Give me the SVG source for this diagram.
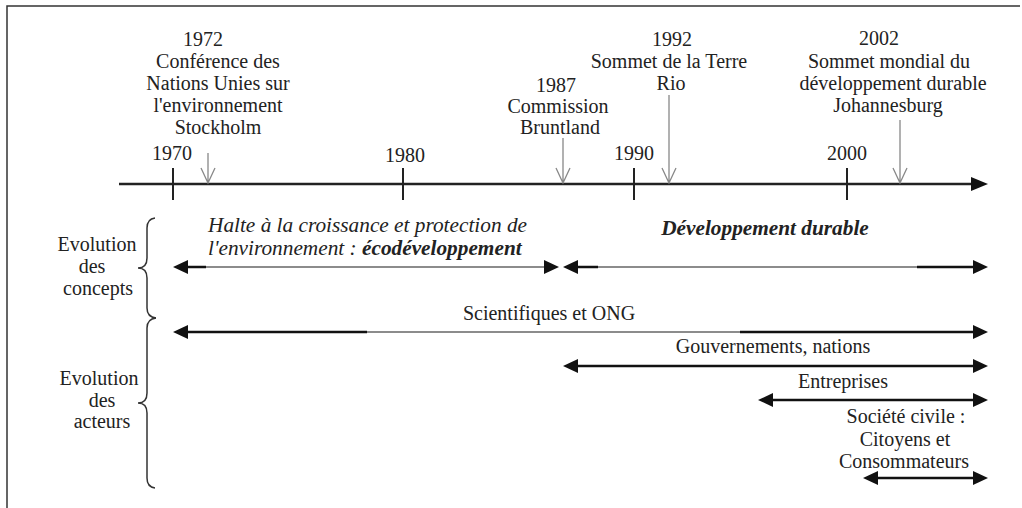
<svg xmlns="http://www.w3.org/2000/svg" width="1022" height="508" viewBox="0 0 1022 508" font-family="'Liberation Serif', 'DejaVu Serif', serif">
<style>
text{font-family:'Liberation Serif','DejaVu Serif',serif;font-size:20px;fill:#222}
.c{text-anchor:middle}
.it{font-style:italic;font-size:21.3px}
.bi{font-style:italic;font-weight:bold;font-size:21.3px}
.frame{stroke:#333;stroke-width:1.5;fill:none}
.axis{stroke:#222;stroke-width:2.5}
.tick{stroke:#222;stroke-width:2}
.ev{stroke:#888;stroke-width:1.3;fill:none}
.thin{stroke:#666;stroke-width:1.3}
.thick{stroke:#111;stroke-width:2.5}
.head{fill:#111}
.brace{stroke:#333;stroke-width:1.5;fill:none}
</style>
<rect width="1022" height="508" fill="#fff"/>
<path class="frame" d="M7,508 L7,6 L1020,6"/>

<g id="timeline">
  <line class="axis" x1="119" y1="184" x2="975" y2="184"/>
  <polygon class="head" points="988,184 971,177 971,191"/>
  <line class="tick" x1="173" y1="168" x2="173" y2="200"/>
  <line class="tick" x1="403" y1="168" x2="403" y2="200"/>
  <line class="tick" x1="634" y1="168" x2="634" y2="200"/>
  <line class="tick" x1="847" y1="168" x2="847" y2="200"/>
  <text class="c" x="172" y="160">1970</text>
  <text class="c" x="405" y="162">1980</text>
  <text class="c" x="634" y="160">1990</text>
  <text class="c" x="847" y="160">2000</text>
</g>

<g id="event-1972">
  <text class="c" x="203" y="46">1972</text>
  <text class="c" x="218" y="68">Conférence des</text>
  <text class="c" x="218" y="90">Nations Unies sur</text>
  <text class="c" x="218" y="112">l'environnement</text>
  <text class="c" x="218" y="134">Stockholm</text>
</g>
<g id="event-1987">
  <text class="c" x="556" y="92">1987</text>
  <text class="c" x="558" y="113">Commission</text>
  <text class="c" x="560" y="134">Bruntland</text>
</g>
<g id="event-1992">
  <text class="c" x="672" y="46">1992</text>
  <text class="c" x="669" y="68">Sommet de la Terre</text>
  <text class="c" x="671" y="90">Rio</text>
</g>
<g id="event-2002">
  <text class="c" x="879" y="45">2002</text>
  <text class="c" x="889" y="68">Sommet mondial du</text>
  <text class="c" x="893" y="90">développement durable</text>
  <text class="c" x="888" y="112">Johannesburg</text>
</g>

<g id="labels-left">
  <text class="c" x="97" y="251">Evolution</text>
  <text class="c" x="92" y="273">des</text>
  <text class="c" x="98" y="295">concepts</text>
  <text class="c" x="99" y="385">Evolution</text>
  <text class="c" x="102" y="407">des</text>
  <text class="c" x="102" y="428">acteurs</text>
  <path class="brace" d="M155,218 Q147,219 147,228 L147,258 Q147,268 138,268 Q147,268 147,278 L147,308 Q147,317 156,318"/>
  <path class="brace" d="M156,318 Q147,319 147,328 L147,393 Q147,403 138,403 Q147,403 147,413 L147,478 Q147,487 155,488"/>
</g>

<g id="concept-labels">
  <text class="it" x="208" y="232">Halte à la croissance et protection de</text>
  <text class="it" x="208" y="255">l'environnement : <tspan class="bi">écodéveloppement</tspan></text>
  <text class="bi c" x="765" y="235">Développement durable</text>
</g>

<g id="actor-labels">
  <text class="c" x="549" y="320">Scientifiques et ONG</text>
  <text class="c" x="773" y="353">Gouvernements, nations</text>
  <text class="c" x="843" y="388">Entreprises</text>
  <text class="c" x="906" y="423">Société civile :</text>
  <text class="c" x="905" y="446">Citoyens et</text>
  <text class="c" x="904" y="468">Consommateurs</text>
</g>

<g id="connectors">
  <path class="ev" d="M208,153 L208,183 M201,168 L208,183 L215,168"/>
  <path class="ev" d="M563,138 L563,183 M556,168 L563,183 L570,168"/>
  <path class="ev" d="M669,95 L669,183 M662,168 L669,183 L676,168"/>
  <path class="ev" d="M900,120 L900,183 M893,168 L900,183 L907,168"/>

  <line class="thin" x1="188" y1="267" x2="545" y2="267"/>
  <line class="thick" x1="186" y1="267" x2="206" y2="267"/>
  <polygon class="head" points="173,267 188,260 188,274"/>
  <polygon class="head" points="559,267 544,260 544,274"/>

  <line class="thin" x1="578" y1="267" x2="973" y2="267"/>
  <line class="thick" x1="576" y1="267" x2="598" y2="267"/>
  <line class="thick" x1="917" y1="267" x2="975" y2="267"/>
  <polygon class="head" points="563,267 578,260 578,274"/>
  <polygon class="head" points="988,267 973,260 973,274"/>

  <line class="thin" x1="188" y1="332" x2="973" y2="332"/>
  <line class="thick" x1="186" y1="332" x2="367" y2="332"/>
  <line class="thick" x1="740" y1="332" x2="975" y2="332"/>
  <polygon class="head" points="173,332 188,325 188,339"/>
  <polygon class="head" points="988,332 973,325 973,339"/>

  <line class="thick" x1="576" y1="366" x2="975" y2="366"/>
  <polygon class="head" points="563,366 578,359 578,373"/>
  <polygon class="head" points="988,366 973,359 973,373"/>

  <line class="thick" x1="771" y1="400" x2="975" y2="400"/>
  <polygon class="head" points="758,400 773,393 773,407"/>
  <polygon class="head" points="988,400 973,393 973,407"/>

  <line class="thick" x1="876" y1="478" x2="975" y2="478"/>
  <polygon class="head" points="863,478 878,471 878,485"/>
  <polygon class="head" points="988,478 973,471 973,485"/>
</g>
</svg>
